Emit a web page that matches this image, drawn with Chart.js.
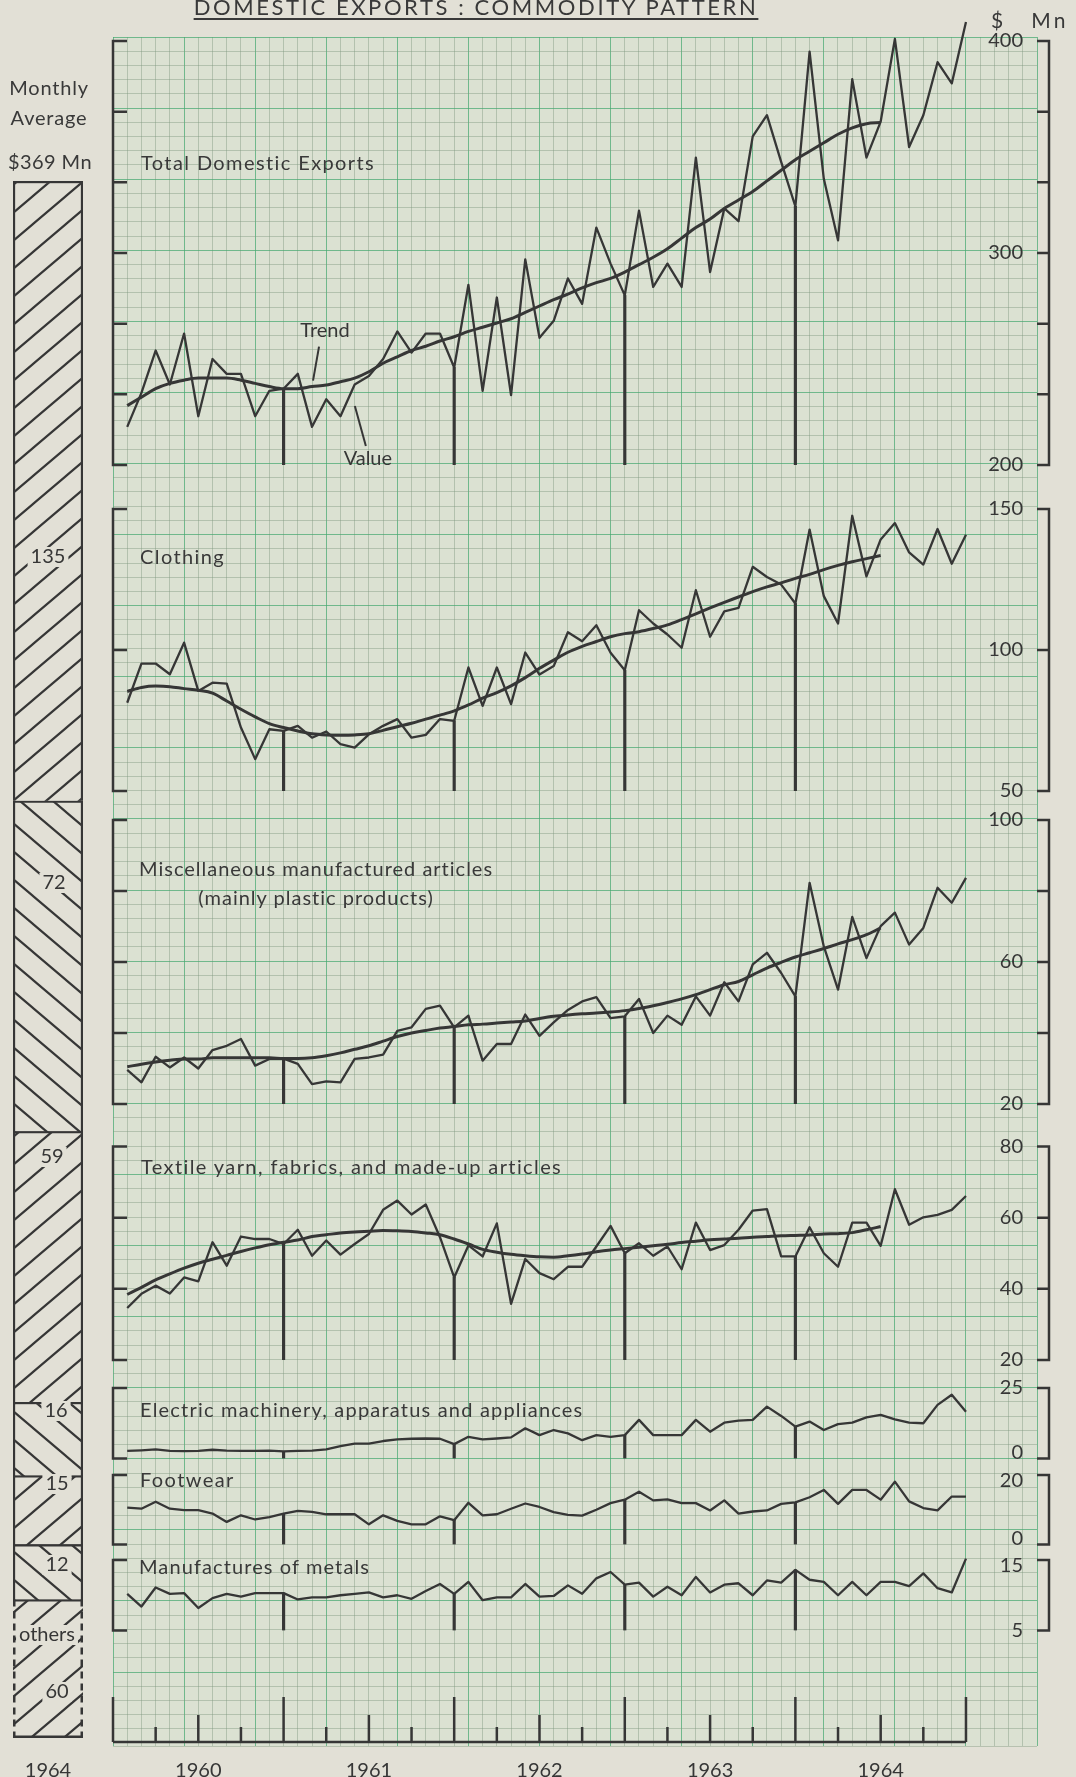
<!DOCTYPE html>
<html>
<head>
<meta charset="utf-8">
<title>Domestic exports : commodity pattern</title>
<script src="https://cdn.jsdelivr.net/npm/chart.js@4.4.1/dist/chart.umd.min.js"></script>
<style>
  body { margin: 0; background: #e2e0d6; }
  #page { position: relative; width: 1076px; height: 1777px; overflow: hidden; font-family: Lato, "Open Sans", sans-serif; color: #393939; }
  #page canvas { position: absolute; left: 0; top: 0; }
  .txt { position: absolute; white-space: nowrap; font-size: 20px; line-height: 20px; letter-spacing: 1.4px; z-index: 5; }
</style>
</head>
<body>
<div id="page">
  <div class="txt" style="left:0;width:952px;text-align:center;top:-4px;font-size:22px;line-height:22px;letter-spacing:2.6px;text-decoration:underline;text-decoration-thickness:2px;text-underline-offset:3px;">DOMESTIC EXPORTS : COMMODITY PATTERN</div>
  <div class="txt" style="left:991px;top:10px;font-size:21px;letter-spacing:3px;">$&nbsp;&nbsp;&nbsp;Mn</div>
  <div class="txt" style="left:0;width:98px;text-align:center;top:77px;letter-spacing:0.8px;">Monthly</div>
  <div class="txt" style="left:0;width:98px;text-align:center;top:107px;letter-spacing:0.8px;">Average</div>
  <div class="txt" style="left:0;width:100px;text-align:center;top:151px;letter-spacing:0.4px;">$369 Mn</div>
  <div class="txt" style="left:141px;top:152px;">Total Domestic Exports</div>
  <div class="txt" style="left:140px;top:546px;">Clothing</div>
  <div class="txt" style="left:139px;top:854px;line-height:29px;text-align:center;letter-spacing:1px;">Miscellaneous manufactured articles<br>(mainly plastic products)</div>
  <div class="txt" style="left:141px;top:1156px;">Textile yarn, fabrics, and made-up articles</div>
  <div class="txt" style="left:140px;top:1399px;letter-spacing:1.2px;">Electric machinery, apparatus and appliances</div>
  <div class="txt" style="left:140px;top:1469px;">Footwear</div>
  <div class="txt" style="left:139px;top:1556px;letter-spacing:1.1px;">Manufactures of metals</div>
</div>
<script>
// monthly figures, Jan 1960 .. Dec 1964, $ Mn
const totalValue = [218, 234, 254, 238, 262, 223, 250, 243, 243, 223, 235, 236, 243, 218, 231, 223, 238, 242, 250, 263, 253, 262, 262, 246, 285, 235, 279, 233, 297, 260,
  268, 288, 276, 312, 295, 280, 320, 284, 295, 284, 345, 291, 321, 315, 355, 365, 343, 322, 395, 335, 306, 382, 345, 362, 401, 350, 365, 390, 380, 409];
const totalTrend = [228, 232, 236, 238.5, 240, 241, 241, 241, 240, 238.5, 237, 236, 236, 237, 237.7, 239.3, 241, 244, 248, 251, 254, 256, 258.5, 260.5, 263, 265, 267, 269, 272, 275,
  278, 280.6, 283.5, 286, 288, 291, 294.5, 298, 302, 307, 312, 316, 321, 325, 329, 334, 339, 344, 348, 352, 356, 359, 361, 361.5];

const clothingValue = [81.3, 95.2, 95.2, 91.4, 102.6, 85.5, 88.4, 88.1, 72.5, 61.3, 71.9, 71.3, 73.1, 68.9, 71.1, 66.6, 65.4, 70.1, 73.1, 75.5, 68.9, 69.9, 75.5, 74.9, 93.8, 80.2, 93.8, 80.8, 99.1, 91.3,
  94.3, 106.3, 103.1, 108.8, 99.0, 92.8, 114.1, 109.4, 105.5, 100.8, 121.2, 104.7, 113.7, 114.9, 129.5, 125.9, 123.2, 116.5, 142.7, 119.1, 109.4, 147.6, 126.1, 139.2, 145.0, 134.6, 130.3, 142.9, 130.6, 140.9];
const clothingTrend = [85.3, 86.7, 87.2, 87.0, 86.3, 85.7, 84.7, 81.9, 79.0, 76.3, 73.9, 72.5, 71.3, 70.3, 69.9, 69.8, 69.9, 70.3, 71.5, 72.8, 74.0, 75.5, 76.9, 78.4, 80.5, 82.9, 84.9, 87.3, 90.2, 93.5,
  96.4, 99.2, 101.3, 103.0, 104.7, 105.8, 106.5, 107.6, 108.9, 110.8, 112.8, 114.9, 116.9, 118.8, 120.7, 122.4, 123.8, 125.4, 126.8, 128.5, 130.0, 131.3, 132.4, 133.5];

const miscValue = [29.6, 26.1, 33.3, 30.3, 33.1, 30.0, 35.2, 36.4, 38.3, 30.8, 32.7, 32.8, 31.3, 25.6, 26.4, 26.1, 32.7, 33.1, 33.9, 40.6, 41.6, 46.8, 47.7, 41.6, 44.9, 32.2, 36.9, 36.9, 45.2, 39.2,
  43.0, 46.5, 48.9, 50.1, 44.2, 44.7, 49.6, 40.0, 44.9, 42.3, 50.3, 44.9, 54.3, 48.9, 59.3, 62.6, 56.9, 50.3, 82.3, 64.4, 52.2, 72.7, 61.1, 70.1, 73.9, 64.9, 69.6, 80.9, 76.7, 83.7];
const miscTrend = [30.5, 31.2, 31.8, 32.3, 32.7, 32.7, 33.0, 33.0, 33.0, 33.0, 33.0, 32.8, 32.8, 33.0, 33.6, 34.4, 35.4, 36.4, 37.7, 39.0, 40.0, 40.7, 41.4, 41.8, 42.3, 42.5, 42.8, 43.1, 43.4, 44.1,
  44.7, 45.1, 45.4, 45.6, 45.9, 46.3, 46.9, 47.7, 48.6, 49.6, 50.8, 52.2, 53.6, 54.5, 56.4, 58.3, 59.9, 61.4, 62.6, 63.8, 65.1, 66.3, 67.7, 69.6];

const textileValue = [34.6, 38.6, 40.9, 38.7, 43.2, 42.1, 53.1, 46.5, 54.7, 54.0, 54.0, 52.6, 56.6, 49.3, 53.6, 49.6, 52.6, 55.4, 62.2, 64.8, 60.9, 63.7, 54.5, 43.2, 52.2, 49.1, 58.4, 35.8, 48.4, 44.4,
  42.7, 46.2, 46.2, 51.9, 57.7, 50.0, 52.8, 49.3, 51.9, 45.5, 58.6, 50.9, 52.3, 56.6, 62.0, 62.4, 49.1, 49.1, 57.3, 50.0, 46.2, 58.6, 58.6, 52.1, 68.0, 58.0, 60.1, 60.8, 62.2, 66.1];
const textileTrend = [38.4, 40.4, 42.5, 44.2, 45.8, 47.2, 48.3, 49.4, 50.5, 51.5, 52.4, 53.1, 53.7, 54.7, 55.2, 55.7, 56.0, 56.2, 56.4, 56.3, 56.1, 55.7, 55.2, 54.0, 52.6, 51.1, 50.3, 49.7, 49.3, 49.0,
  48.9, 49.3, 49.8, 50.4, 50.9, 51.3, 51.7, 52.1, 52.5, 53.0, 53.4, 53.8, 54.0, 54.2, 54.5, 54.7, 54.9, 55.0, 55.1, 55.4, 55.5, 55.8, 56.6, 57.5];

const electricValue = [2.7, 2.9, 3.2, 2.7, 2.6, 2.7, 3.1, 2.8, 2.7, 2.7, 2.8, 2.5, 2.7, 2.8, 3.2, 4.4, 5.3, 5.3, 6.2, 6.8, 7.0, 7.1, 7.0, 5.1, 7.7, 6.8, 7.1, 7.5, 10.7, 8.3,
  10.1, 8.9, 6.5, 8.3, 7.7, 8.3, 13.7, 8.3, 8.3, 8.3, 13.7, 9.5, 12.7, 13.4, 13.7, 18.4, 15.1, 11.3, 13.1, 10.1, 12.2, 12.7, 14.6, 15.5, 13.9, 12.7, 12.5, 19.0, 22.6, 16.6];
const footwearValue = [10.6, 10.3, 12.3, 10.3, 9.9, 9.9, 8.9, 6.5, 8.4, 7.2, 7.9, 8.9, 9.7, 9.4, 8.7, 8.7, 8.7, 5.8, 8.4, 6.8, 5.8, 5.8, 8.1, 7.0, 12.0, 8.4, 8.7, 10.3, 11.8, 10.8,
  9.3, 8.5, 8.3, 10.0, 11.9, 12.9, 15.2, 12.7, 13.0, 11.9, 11.9, 9.8, 12.7, 8.9, 9.5, 9.8, 11.7, 12.1, 13.6, 15.7, 11.7, 15.7, 15.7, 12.9, 18.1, 12.4, 10.5, 9.8, 13.8, 13.8];
const metalsValue = [10.2, 8.4, 11.1, 10.2, 10.3, 8.2, 9.6, 10.2, 9.8, 10.3, 10.3, 10.3, 9.4, 9.7, 9.7, 10.0, 10.2, 10.4, 9.7, 10.0, 9.5, 10.6, 11.6, 10.2, 11.9, 9.3, 9.7, 9.7, 11.6, 9.8,
  9.9, 11.4, 10.2, 12.4, 13.3, 11.5, 11.8, 9.8, 11.2, 10.0, 12.6, 10.4, 11.5, 11.7, 10.0, 12.1, 11.8, 13.6, 12.2, 11.9, 10.0, 11.9, 10.0, 11.9, 11.9, 11.3, 13.1, 11.0, 10.4, 15.2];

// December points that get a drop line
const dropMonths = [12, 24, 36, 48];
const yearLabels = ['1960', '1961', '1962', '1963', '1964'];
const yearMidMonths = [6, 18, 30, 42, 54];

// right hand scales
const totalTicks = [200, 233.33, 266.67, 300, 333.33, 366.67, 400];
const totalTickLabels = [200, 300, 400];
const clothingTicks = [50, 100, 150];
const miscTicks = [20, 40, 60, 80, 100];
const miscTickLabels = [20, 60, 100];
const textileTicks = [20, 40, 60, 80];
const electricTicks = [0, 25];
const footwearTicks = [0, 20];
const metalsTicks = [5, 15];

// 1964 monthly average split ($369 Mn)
const shareNames = ['Clothing', 'Miscellaneous', 'Textile', 'Electric', 'Footwear', 'Metals', 'others'];
const shareValues = [135, 72, 59, 16, 15, 12, 60];

const INK = '#363636';
const PAGE = '#e2e0d6';
const GRIDBG = '#dbe1d2';
const MINOR = 'rgba(125,150,125,0.42)';
const MAJOR = 'rgba(70,168,112,0.72)';
const W = 1076, H = 1777;
const X0 = 113, X1 = 1049, XMAX = 65.84;

Chart.defaults.font.family = 'Lato';
Chart.defaults.color = INK;

function addCanvas(w, h) {
  const c = document.createElement('canvas');
  c.width = w;
  c.height = h;
  document.getElementById('page').appendChild(c);
  return c;
}

// graph paper
const paperPlugin = {
  id: 'paper',
  beforeDraw(chart) {
    const {ctx, chartArea: a} = chart;
    ctx.save();
    ctx.fillStyle = GRIDBG;
    ctx.fillRect(a.left, a.top, a.right - a.left, a.bottom - a.top);
    ctx.restore();
  }
};
const gridColor = (c) => {
  const v = c.tick ? c.tick.value : 0.5;
  return (Math.abs(v - Math.round(v)) < 1e-6 && Math.round(v) % 5 === 0) ? MAJOR : MINOR;
};
new Chart(addCanvas(W, H), {
  type: 'scatter',
  data: {datasets: []},
  options: {
    responsive: false, animation: false, events: [],
    layout: {padding: {left: X0, right: W - 1037, top: 37, bottom: H - 1746}},
    plugins: {legend: {display: false}, tooltip: {enabled: false}},
    scales: {
      x: {type: 'linear', offset: false, min: 0, max: 65, ticks: {stepSize: 1, display: false},
        grid: {drawTicks: false, color: gridColor, lineWidth: 1}, border: {display: false},
        afterFit: (s) => { s.height = 0; }},
      y: {type: 'linear', reverse: true, min: 0, max: 120.2, ticks: {stepSize: 1, display: false},
        grid: {drawTicks: false, color: gridColor, lineWidth: 1}, border: {display: false},
        afterFit: (s) => { s.width = 0; }}
    }
  },
  plugins: [paperPlugin]
});

// brackets with inward ticks on both sides, labels on the right
const bracketPlugin = {
  id: 'bracket',
  afterDatasetsDraw(chart, args, o) {
    const {ctx, chartArea: a, scales: {y}} = chart;
    const yt = y.getPixelForValue(y.max), yb = y.getPixelForValue(y.min);
    ctx.save();
    ctx.strokeStyle = INK;
    ctx.lineWidth = 2.5;
    ctx.beginPath();
    ctx.moveTo(a.left + 14, yt); ctx.lineTo(a.left, yt); ctx.lineTo(a.left, yb); ctx.lineTo(a.left + 14, yb);
    ctx.moveTo(a.right - 12, yt); ctx.lineTo(a.right, yt); ctx.lineTo(a.right, yb); ctx.lineTo(a.right - 12, yb);
    y.ticks.forEach((t) => {
      const py = y.getPixelForValue(t.value);
      ctx.moveTo(a.left, py); ctx.lineTo(a.left + 14, py);
      ctx.moveTo(a.right, py); ctx.lineTo(a.right - 12, py);
    });
    ctx.stroke();
    ctx.fillStyle = INK;
    ctx.font = '20px Lato';
    ctx.textAlign = 'right';
    ctx.textBaseline = 'middle';
    const shift = o.shift || [];
    o.labels.forEach((v, k) => ctx.fillText(String(v), a.right - 26, y.getPixelForValue(v) + (shift[k] || 0)));
    ctx.restore();
  }
};

// "Trend" / "Value" call-outs
const notesPlugin = {
  id: 'notes',
  afterDatasetsDraw(chart, args, o) {
    if (!o.items || !o.items.length) return;
    const {ctx} = chart;
    ctx.save();
    ctx.strokeStyle = INK;
    ctx.lineWidth = 2;
    ctx.fillStyle = INK;
    ctx.font = '20px Lato';
    ctx.textAlign = 'center';
    ctx.textBaseline = 'middle';
    o.items.forEach((n) => {
      const pts = chart.getDatasetMeta(n.ds).data;
      const p = pts[n.i], q = pts[n.i + 1];
      const px = p.x + (q.x - p.x) * n.t, py = p.y + (q.y - p.y) * n.t;
      ctx.beginPath();
      ctx.moveTo(px + n.a[0], py + n.a[1]);
      ctx.lineTo(px + n.b[0], py + n.b[1]);
      ctx.stroke();
      ctx.fillText(n.text, px + n.c[0], py + n.c[1]);
    });
    ctx.restore();
  }
};

const panels = [
  {value: totalValue, trend: totalTrend, ticks: totalTicks, labels: totalTickLabels, top: 41, bottom: 465,
    notes: [
      {ds: 1, i: 13, t: 0, text: 'Trend', a: [1, -6], b: [7, -40], c: [13, -56]},
      {ds: 0, i: 15, t: 0.45, text: 'Value', a: [8, 4], b: [19, 44], c: [21, 57]}
    ]},
  {value: clothingValue, trend: clothingTrend, ticks: clothingTicks, labels: clothingTicks, top: 509, bottom: 791},
  {value: miscValue, trend: miscTrend, ticks: miscTicks, labels: miscTickLabels, top: 820, bottom: 1104},
  {value: textileValue, trend: textileTrend, ticks: textileTicks, labels: textileTicks, top: 1146.5, bottom: 1360},
  {value: electricValue, ticks: electricTicks, labels: electricTicks, shift: [-6, 0], top: 1388, bottom: 1458.5},
  {value: footwearValue, ticks: footwearTicks, labels: footwearTicks, shift: [-6, 6], top: 1475, bottom: 1544.5},
  {value: metalsValue, ticks: metalsTicks, labels: metalsTicks, shift: [0, 6], top: 1560, bottom: 1630.5}
];

function drawPanel(p) {
  const lo = p.ticks[0], hi = p.ticks[p.ticks.length - 1];
  const datasets = [{
    type: 'line',
    data: p.value.map((v, i) => ({x: i + 1, y: v})),
    borderColor: INK, borderWidth: 2.3, borderJoinStyle: 'round',
    pointRadius: 0, tension: 0, clip: false
  }];
  if (p.trend) {
    datasets.push({
      type: 'line',
      data: p.trend.map((v, i) => ({x: i + 1, y: v})),
      borderColor: INK, borderWidth: 3, pointRadius: 0,
      cubicInterpolationMode: 'monotone', clip: false
    });
  }
  datasets.push({
    type: 'bar',
    data: dropMonths.map((m) => ({x: m, y: [lo, p.value[m - 1]]})),
    backgroundColor: INK, barThickness: 2.5
  });
  new Chart(addCanvas(W, H), {
    type: 'line',
    data: {datasets},
    options: {
      responsive: false, animation: false, events: [],
      layout: {padding: {left: X0, right: W - X1, top: p.top, bottom: H - p.bottom}},
      plugins: {
        legend: {display: false}, tooltip: {enabled: false},
        bracket: {labels: p.labels, shift: p.shift},
        notes: {items: p.notes || []}
      },
      scales: {
        x: {type: 'linear', offset: false, min: 0, max: XMAX, display: false},
        y: {type: 'linear', position: 'right', min: lo, max: hi,
          afterBuildTicks: (s) => { s.ticks = p.ticks.map((v) => ({value: v})); },
          ticks: {display: false}, grid: {display: false}, border: {display: false},
          afterFit: (s) => { s.width = 0; }}
      }
    },
    plugins: [bracketPlugin, notesPlugin]
  });
}
panels.forEach(drawPanel);

// time axis at the foot
const axisPlugin = {
  id: 'timeAxis',
  afterDraw(chart) {
    const {ctx, chartArea: a, scales: {x}} = chart;
    const months = totalValue.length;
    ctx.save();
    ctx.strokeStyle = INK;
    ctx.lineWidth = 2.5;
    ctx.beginPath();
    ctx.moveTo(x.getPixelForValue(0), a.bottom);
    ctx.lineTo(x.getPixelForValue(months), a.bottom);
    for (let m = 0; m <= months; m += 3) {
      const len = m % 12 === 0 ? 45 : (m % 6 === 0 ? 27 : 15);
      const px = x.getPixelForValue(m);
      ctx.moveTo(px, a.bottom);
      ctx.lineTo(px, a.bottom - len);
    }
    ctx.stroke();
    ctx.restore();
  }
};
new Chart(addCanvas(W, H), {
  type: 'scatter',
  data: {datasets: []},
  options: {
    responsive: false, animation: false, events: [],
    layout: {padding: {left: X0, right: W - X1, top: 1690, bottom: 0}},
    plugins: {legend: {display: false}, tooltip: {enabled: false}},
    scales: {
      x: {type: 'linear', offset: false, min: 0, max: XMAX,
        afterBuildTicks: (s) => { s.ticks = yearMidMonths.map((v) => ({value: v})); },
        ticks: {autoSkip: false, maxRotation: 0, padding: 9, font: {size: 20}, color: INK,
          callback: (v, i) => yearLabels[i]},
        grid: {display: false}, border: {display: false},
        afterFit: (s) => { s.height = 35; }},
      y: {display: false, min: 0, max: 1}
    }
  },
  plugins: [axisPlugin]
});

// hatched column on the left
function hatch(dir) {
  const w = 33, h = 28;
  const c = document.createElement('canvas');
  c.width = w; c.height = h;
  const g = c.getContext('2d');
  g.fillStyle = PAGE;
  g.fillRect(0, 0, w, h);
  g.strokeStyle = INK;
  g.lineWidth = 2.2;
  const segs = dir > 0
    ? [[-w, 2 * h, 2 * w, -h], [-w, h, w, -h], [0, 2 * h, 2 * w, 0]]
    : [[-w, -h, 2 * w, 2 * h], [0, -h, 2 * w, h], [-w, 0, w, 2 * h]];
  g.beginPath();
  segs.forEach((s) => { g.moveTo(s[0], s[1]); g.lineTo(s[2], s[3]); });
  g.stroke();
  return g.createPattern(c, 'repeat');
}
const barLabelX = [48, 54, 52, 56, 57, 57, 57];
const barLabelY = [557, 883, 1157, 1411, 1484, 1565, 1692];
const barPlugin = {
  id: 'barNotes',
  afterDatasetsDraw(chart) {
    const {ctx, chartArea: a} = chart;
    const last = chart.data.datasets.length - 1;
    const el = chart.getDatasetMeta(last).data[0];
    const half = el.width / 2;
    const top = Math.min(el.base, el.y);
    ctx.save();
    ctx.strokeStyle = INK;
    ctx.lineWidth = 2.5;
    ctx.setLineDash([7, 5]);
    ctx.beginPath();
    ctx.moveTo(el.x - half + 1.25, top); ctx.lineTo(el.x - half + 1.25, a.bottom);
    ctx.moveTo(el.x + half - 1.25, top); ctx.lineTo(el.x + half - 1.25, a.bottom);
    ctx.stroke();
    ctx.setLineDash([]);
    ctx.beginPath();
    ctx.moveTo(el.x - half, a.bottom - 1.25); ctx.lineTo(el.x + half, a.bottom - 1.25);
    ctx.stroke();
    ctx.font = '20px Lato';
    ctx.textAlign = 'center';
    ctx.textBaseline = 'middle';
    const items = shareValues.map((v, k) => ({text: String(v), x: barLabelX[k], y: barLabelY[k]}));
    items.push({text: shareNames[last], x: 47, y: 1635});
    items.forEach((it) => {
      const w = ctx.measureText(it.text).width;
      ctx.fillStyle = PAGE;
      ctx.fillRect(it.x - w / 2 - 3, it.y - 10, w + 6, 20);
      ctx.fillStyle = INK;
      ctx.fillText(it.text, it.x, it.y);
    });
    ctx.restore();
  }
};
new Chart(addCanvas(100, H), {
  type: 'bar',
  data: {
    labels: ['1964'],
    datasets: shareNames.map((n, k) => ({
      label: n,
      data: [shareValues[k]],
      backgroundColor: hatch(k % 2 === 0 ? 1 : -1),
      borderColor: INK,
      borderWidth: k === shareNames.length - 1 ? {top: 2.5, left: 0, right: 0, bottom: 0} : {top: 2.5, left: 2.5, right: 2.5, bottom: 0},
      borderSkipped: false,
      barPercentage: 1,
      categoryPercentage: 1
    }))
  },
  options: {
    responsive: false, animation: false, events: [],
    layout: {padding: {left: 13, right: 17, top: 181, bottom: 0}},
    plugins: {legend: {display: false}, tooltip: {enabled: false}},
    scales: {
      x: {stacked: true, grid: {display: false}, border: {display: false},
        ticks: {padding: 13, font: {size: 20}, color: INK},
        afterFit: (s) => { s.height = H - 1738; }},
      y: {stacked: true, reverse: true, min: 0, max: 339.2, display: false}
    }
  },
  plugins: [barPlugin]
});
</script>
</body>
</html>
